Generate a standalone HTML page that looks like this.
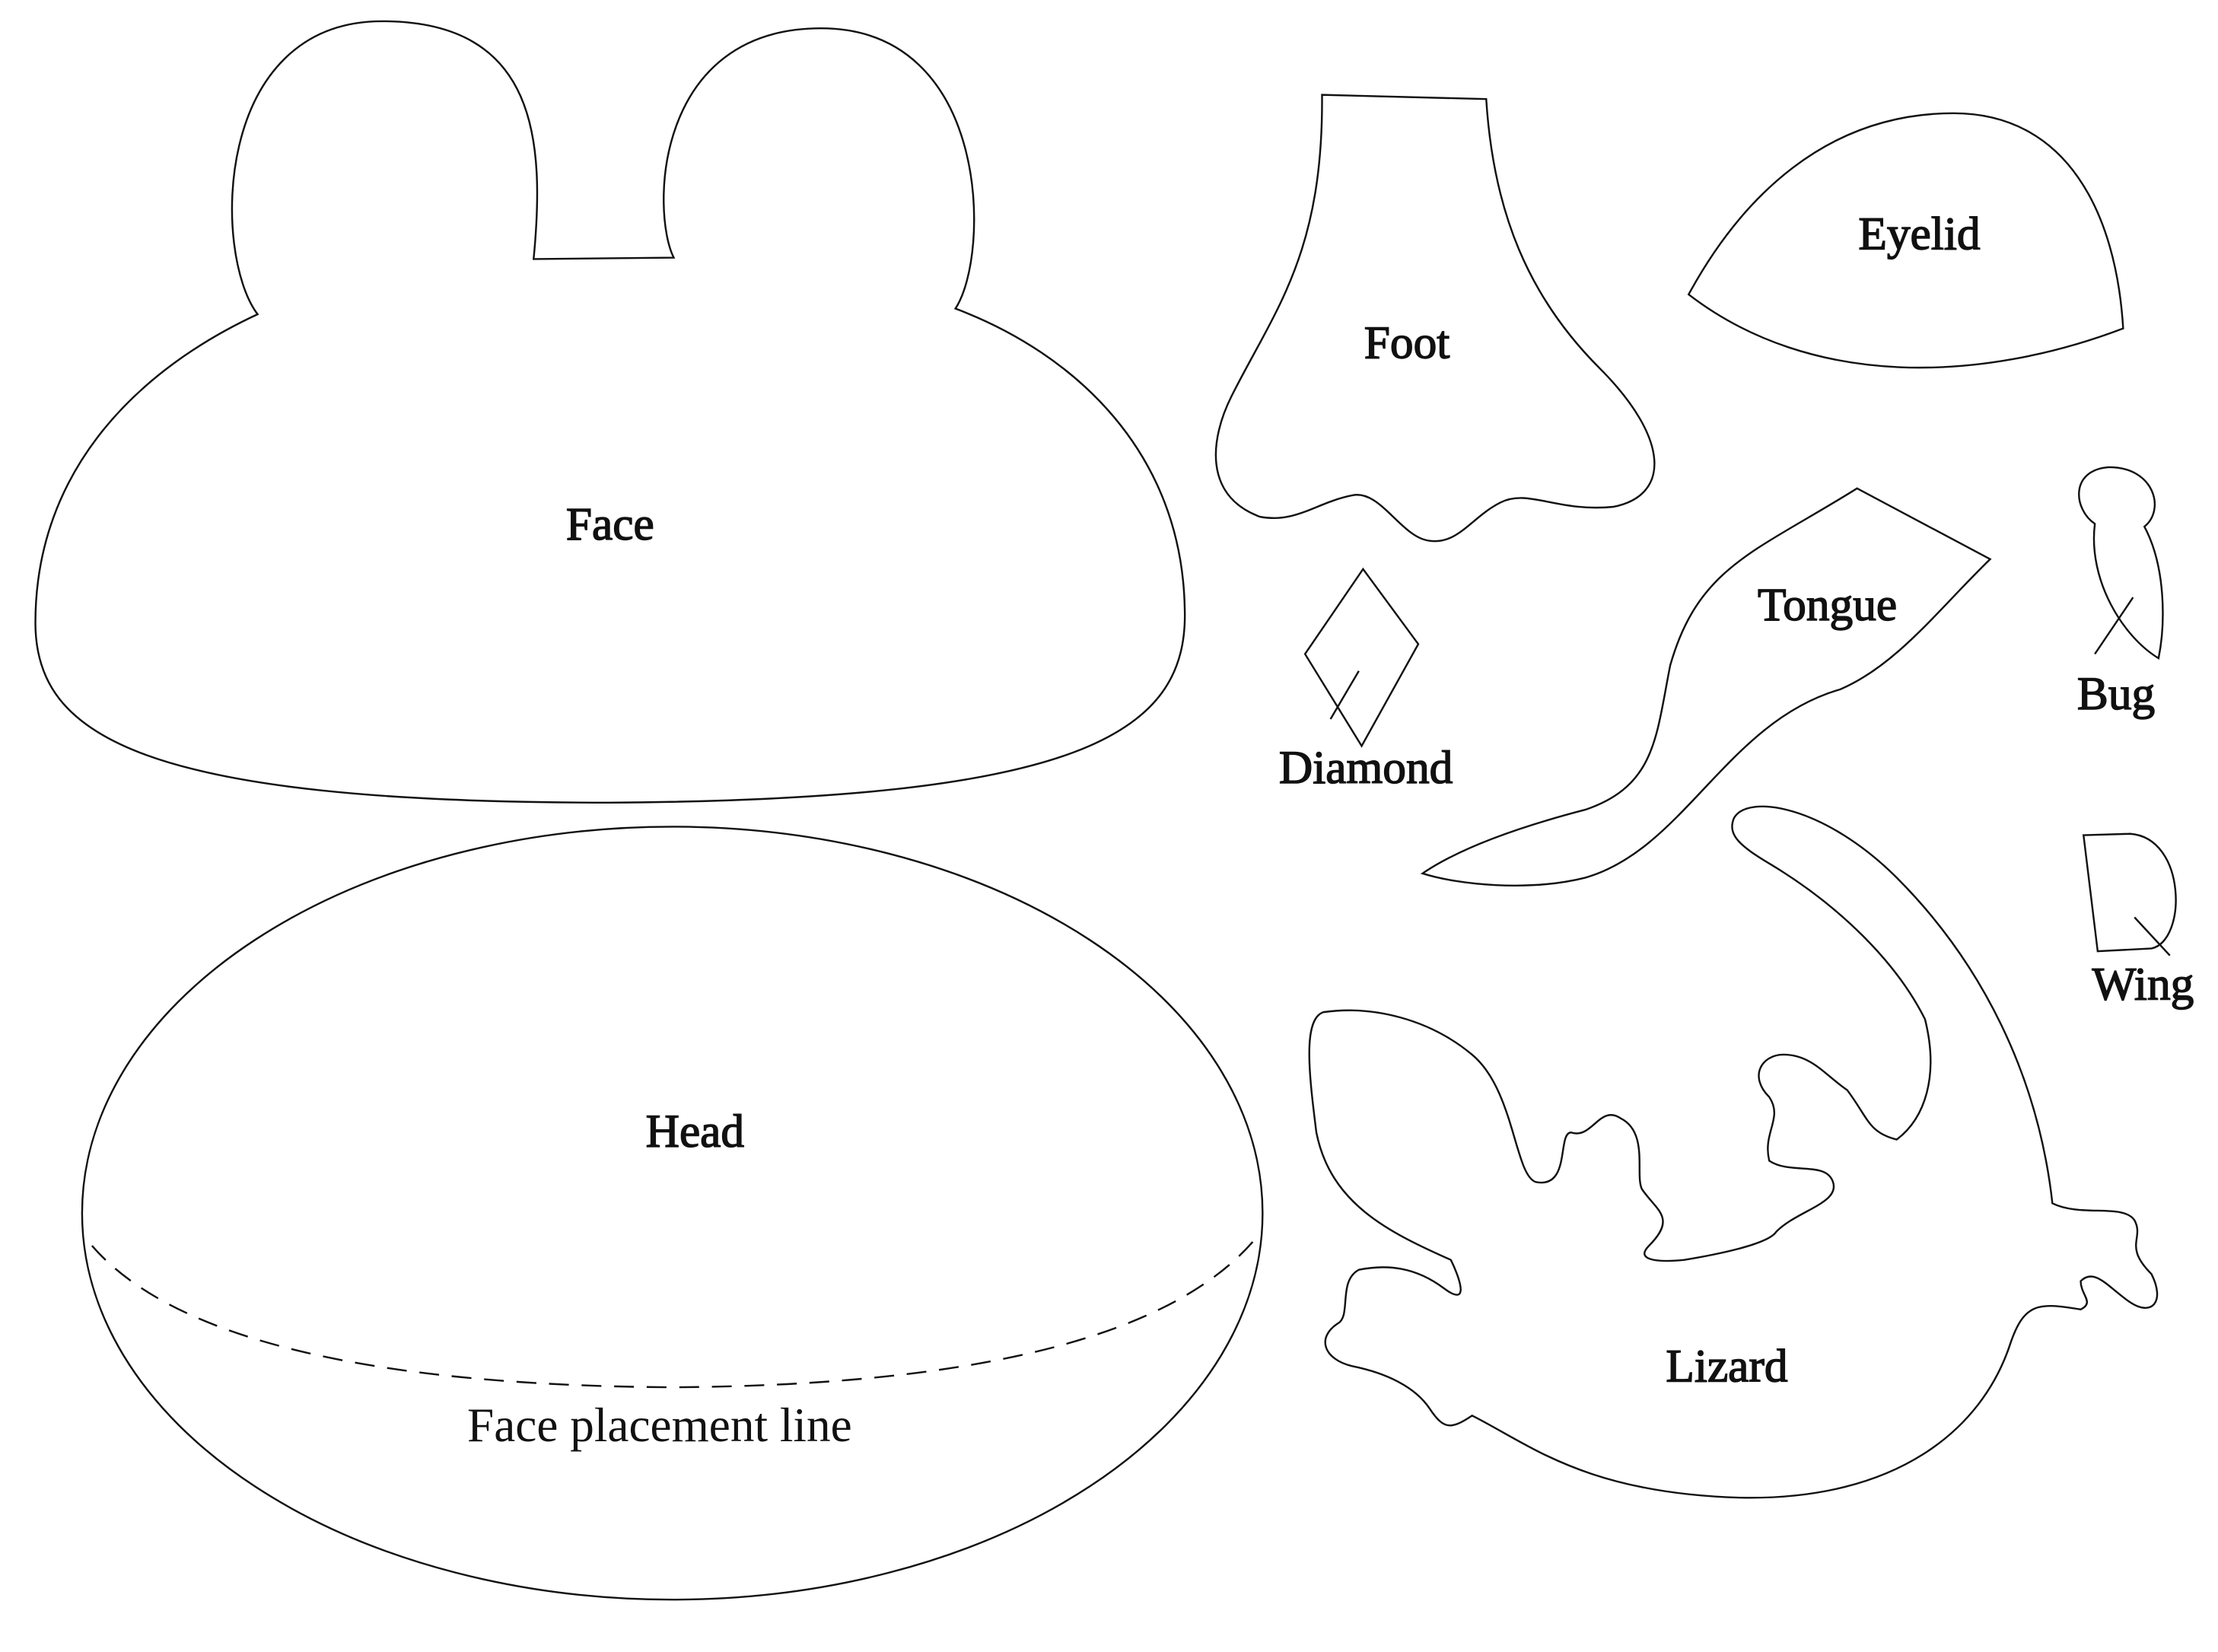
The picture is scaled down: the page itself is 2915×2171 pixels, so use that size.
<!DOCTYPE html>
<html><head><meta charset="utf-8"><style>
html,body{margin:0;padding:0;background:#fff;}
svg{display:block;}
text{font-family:"Liberation Serif",serif;fill:#111;}
</style></head><body>
<svg width="2915" height="2171" viewBox="0 0 1567 1167" preserveAspectRatio="none" xmlns="http://www.w3.org/2000/svg">
<g fill="none" stroke="#111" stroke-width="1.3">
<path d="M377,183 L476,182 C460,150 462,20 580,20 C700,20 700,180 675,218 C760,250 835,320 837,430 C840,520 760,565 430,567 C100,567 25,520 25,440 C25,330 100,260 182,222 C150,180 150,15 270,15 C380,15 385,100 377,183 Z"/>
<ellipse cx="475" cy="857" rx="417" ry="273"/>
<path d="M65,880 Q150,978 475,980 Q800,978 887,875" stroke-dasharray="14,9"/>
<path d="M934,67 L1050,70 C1055,150 1080,210 1130,260 C1180,310 1180,350 1140,358 C1100,362 1080,345 1060,355 C1040,365 1030,385 1010,382 C990,380 975,345 955,350 C930,355 915,370 890,365 C850,350 855,310 870,280 C900,220 935,180 934,67 Z"/>
<path d="M1193,208 C1230,140 1290,80 1380,80 C1460,80 1495,150 1500,232 C1400,270 1280,275 1193,208 Z"/>
<path d="M1312,345 L1406,395 C1370,430 1340,470 1300,487 C1220,510 1190,600 1120,620 C1080,630 1030,625 1005,617 C1030,600 1070,585 1120,572 C1170,555 1170,520 1180,470 C1200,400 1240,390 1312,345 Z"/>
<path d="M963,402 L1002,455 L962,527 L922,462 Z"/>
<path d="M960,474 L940,508"/>
<path d="M1480,370 C1465,360 1462,332 1490,330 C1522,330 1530,360 1515,372 C1530,400 1530,440 1525,465 C1500,450 1475,410 1480,370 Z"/>
<path d="M1507,422 L1480,462"/>
<path d="M1472,590 L1505,589 C1545,592 1545,665 1520,670 L1482,672 Z"/>
<path d="M1508,648 L1533,675"/>
<path d="M1225,578 C1235,560 1290,570 1340,620 C1400,680 1440,760 1450,850 C1470,860 1500,850 1508,862 C1515,875 1500,880 1520,900 C1530,920 1520,930 1505,920 C1490,910 1480,895 1470,905 C1470,915 1480,920 1470,925 C1440,920 1430,920 1420,950 C1400,1010 1340,1060 1230,1058 C1120,1055 1080,1020 1040,1000 C1025,1010 1020,1010 1010,995 C1000,980 980,970 955,965 C935,960 930,945 945,935 C955,930 945,905 960,897 C980,893 1000,895 1020,910 C1040,925 1030,900 1025,890 C980,870 940,850 930,800 C925,760 920,720 935,715 C970,710 1010,720 1040,745 C1070,770 1070,830 1085,835 C1110,840 1100,800 1110,800 C1125,805 1130,780 1145,790 C1165,800 1155,830 1160,840 C1170,855 1185,860 1165,880 C1155,890 1170,892 1190,890 C1220,885 1250,878 1255,870 C1270,855 1300,850 1295,835 C1290,820 1265,830 1250,820 C1245,800 1260,790 1250,775 C1235,760 1245,745 1260,745 C1280,745 1290,760 1305,770 C1320,790 1320,800 1340,805 C1360,790 1370,760 1360,720 C1340,680 1300,640 1250,610 C1230,598 1220,590 1225,578 Z"/>
</g>
<g font-size="33" text-anchor="middle" stroke="#111" stroke-width="0.8">
<text x="431" y="381">Face</text>
<text x="491" y="810">Head</text>
<text x="994" y="253">Foot</text>
<text x="1356" y="176">Eyelid</text>
<text x="1291" y="438">Tongue</text>
<text x="965" y="553">Diamond</text>
<text x="1495" y="501">Bug</text>
<text x="1514" y="706">Wing</text>
<text x="1220" y="976">Lizard</text>
</g>
<text x="466" y="1018" font-size="34" text-anchor="middle">Face placement line</text>
</svg>
</body></html>
